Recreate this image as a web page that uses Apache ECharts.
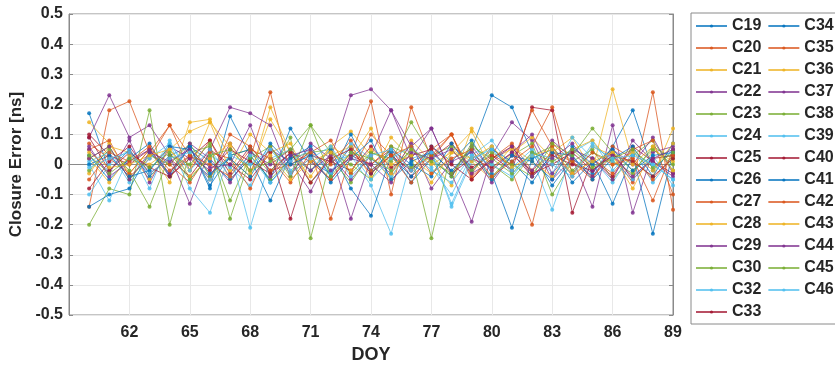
<!DOCTYPE html>
<html>
<head>
<meta charset="utf-8">
<script src="https://cdn.jsdelivr.net/npm/echarts@6/dist/echarts.min.js"></script>
<style>
  html, body { margin: 0; padding: 0; background: #fff; }
  #vis { width: 835px; height: 366px; }
</style>
</head>
<body>
<div id="vis"></div>
<script>
// day of year for each point, axis starts one day earlier
const doy = [60, 61, 62, 63, 64, 65, 66, 67, 68, 69, 70, 71, 72, 73, 74,
             75, 76, 77, 78, 79, 80, 81, 82, 83, 84, 85, 86, 87, 88, 89];
const axisStart = 59;
const xTicks = [62, 65, 68, 71, 74, 77, 80, 83, 86, 89];

const names = ['C19', 'C20', 'C21', 'C22', 'C23', 'C24', 'C25', 'C26', 'C27', 'C28',
               'C29', 'C30', 'C32', 'C33', 'C34', 'C35', 'C36', 'C37', 'C38', 'C39',
               'C40', 'C41', 'C42', 'C43', 'C44', 'C45', 'C46'];

// matlab default colour order
const colors = ['#0072BD', '#D95319', '#EDB120', '#7E2F8E', '#77AC30', '#4DBEEE', '#A2142F'];

const C19 = [0.17, -0.02, 0.05, -0.04, 0.03, 0.06, -0.08, 0.16, 0.03, -0.05, 0.12, 0.01, -0.03, 0.06, -0.02, 0.04, -0.06, 0.02, -0.04, 0.05, 0.23, 0.19, 0.04, -0.07, 0.02, -0.03, 0.06, 0.18, -0.02, 0.05];
const C20 = [-0.14, 0.18, 0.21, 0.04, 0.13, -0.02, 0.08, -0.05, 0.02, 0.24, -0.03, 0.05, -0.18, 0.03, 0.21, -0.1, 0.19, 0.02, 0.1, -0.03, 0.06, -0.02, -0.2, 0.07, 0.01, -0.04, 0.03, -0.06, 0.24, -0.15];
const C21 = [0.14, 0.07, -0.03, 0.05, -0.06, 0.14, 0.15, 0.02, -0.04, 0.19, 0.04, -0.02, 0.06, 0.11, 0.03, -0.05, 0.08, 0.01, -0.07, 0.12, 0.02, 0.05, -0.03, 0.04, 0.09, -0.02, 0.25, 0.01, -0.04, 0.12];
const C22 = [0.09, 0.23, 0.09, 0.13, 0.03, -0.13, 0.05, 0.19, 0.17, 0.13, -0.04, 0.07, 0.02, 0.23, 0.25, 0.18, 0.06, 0.12, -0.03, -0.19, 0.03, 0.14, 0.08, -0.05, 0.02, -0.14, 0.13, -0.16, 0.04, 0.06];
const C23 = [-0.2, -0.08, -0.1, 0.18, -0.2, 0.04, 0.06, -0.12, 0.03, -0.05, 0.02, 0.04, 0.05, -0.03, 0.04, 0.02, -0.01, 0.03, 0.06, 0.02, -0.04, 0.03, 0.07, -0.1, 0.01, 0.05, -0.05, 0.03, 0.08, -0.02];
const C24 = [0.0, -0.12, 0.03, -0.02, 0.07, -0.08, -0.16, 0.04, -0.21, 0.02, 0.05, -0.06, 0.01, 0.03, -0.07, -0.23, 0.02, 0.04, -0.14, 0.01, 0.06, -0.03, 0.02, -0.15, 0.04, 0.08, -0.02, 0.05, -0.06, 0.03];
const C25 = [0.1, 0.03, 0.0, 0.05, -0.04, 0.02, 0.08, -0.03, 0.06, -0.02, 0.04, 0.01, -0.05, 0.03, 0.0, 0.05, -0.04, 0.02, 0.07, -0.01, 0.03, -0.02, 0.19, 0.18, -0.16, 0.02, -0.04, 0.06, 0.01, -0.03];
const C26 = [-0.14, -0.1, -0.08, 0.04, -0.03, 0.06, 0.01, -0.05, 0.02, -0.12, 0.03, -0.02, 0.05, -0.08, -0.17, 0.03, -0.04, 0.06, 0.01, 0.08, -0.03, -0.21, 0.02, 0.05, -0.06, 0.01, -0.13, 0.03, -0.23, 0.04];
const C27 = [0.05, 0.08, -0.04, 0.02, 0.13, 0.03, -0.05, 0.1, 0.06, -0.02, 0.0, 0.04, 0.08, -0.03, 0.1, 0.03, -0.06, 0.05, 0.1, -0.04, 0.02, 0.07, -0.02, 0.04, 0.01, -0.05, 0.06, 0.02, -0.12, 0.05];
const C28 = [-0.03, 0.06, 0.04, -0.05, 0.05, 0.11, 0.14, -0.02, 0.1, 0.04, 0.07, -0.06, 0.03, 0.06, -0.04, 0.09, 0.02, -0.03, 0.05, 0.01, -0.05, 0.04, 0.09, 0.02, -0.03, 0.06, 0.03, -0.08, 0.05, 0.01];
const C29 = [0.05, -0.03, 0.08, -0.06, 0.06, 0.02, -0.04, 0.07, -0.02, 0.05, 0.01, -0.09, 0.04, -0.18, 0.02, -0.03, 0.07, -0.08, 0.01, 0.04, -0.06, 0.03, -0.02, 0.08, 0.02, -0.04, 0.05, 0.0, 0.09, -0.03];
const C30 = [0.02, 0.06, -0.05, 0.03, 0.0, 0.07, -0.04, 0.03, 0.05, -0.03, 0.09, -0.245, 0.02, -0.06, 0.04, 0.01, 0.14, 0.03, -0.04, 0.07, 0.0, -0.05, 0.03, 0.06, -0.02, 0.04, 0.01, -0.03, 0.06, 0.02];
const C32 = [-0.1, 0.0, 0.05, -0.08, 0.08, -0.05, 0.03, -0.01, -0.07, 0.06, -0.02, 0.04, -0.03, 0.07, 0.02, -0.04, 0.05, -0.02, -0.06, 0.03, 0.08, -0.01, 0.05, -0.03, 0.09, 0.02, -0.06, 0.04, 0.0, -0.05];
const C33 = [-0.08, 0.01, 0.06, -0.03, 0.02, -0.04, 0.05, 0.0, -0.05, 0.04, -0.18, 0.03, 0.01, -0.02, 0.06, -0.01, 0.03, 0.05, -0.03, 0.02, -0.01, 0.04, -0.04, 0.03, 0.0, -0.02, 0.04, -0.05, 0.02, 0.03];
const C34 = [0.03, -0.05, 0.02, 0.07, -0.04, 0.06, -0.07, 0.03, 0.05, -0.06, 0.02, 0.06, -0.04, 0.1, -0.03, 0.05, 0.0, -0.04, 0.07, -0.02, 0.05, 0.01, -0.06, 0.04, 0.03, -0.05, 0.02, 0.06, -0.04, 0.07];
const C35 = [0.07, 0.02, -0.03, 0.05, 0.0, -0.06, 0.04, 0.02, -0.08, 0.06, -0.03, 0.02, -0.05, 0.04, 0.0, 0.06, -0.02, 0.03, 0.1, -0.05, 0.03, 0.0, 0.18, 0.06, -0.04, 0.02, -0.03, 0.05, 0.08, -0.1];
const C36 = [0.02, -0.06, 0.03, 0.0, 0.05, -0.02, 0.14, 0.06, -0.03, 0.15, 0.04, -0.04, 0.06, 0.02, 0.12, -0.03, 0.05, 0.0, 0.04, 0.11, -0.02, 0.06, 0.01, -0.04, 0.05, 0.08, 0.0, 0.04, -0.02, 0.07];
const C37 = [0.06, -0.04, 0.01, 0.05, -0.03, 0.07, 0.02, -0.06, 0.04, 0.0, 0.05, -0.02, 0.03, -0.05, 0.03, 0.18, 0.02, 0.12, -0.03, 0.06, -0.02, 0.04, 0.1, -0.03, 0.05, 0.02, -0.05, 0.08, 0.01, -0.04];
const C38 = [-0.02, 0.05, -0.02, -0.14, 0.03, 0.0, 0.07, -0.18, 0.02, 0.06, -0.04, 0.13, 0.04, 0.0, -0.05, 0.06, 0.03, -0.245, 0.05, -0.02, 0.04, 0.0, -0.04, 0.07, 0.03, 0.12, 0.04, -0.02, 0.05, 0.0];
const C39 = [0.01, 0.04, -0.06, 0.02, 0.07, -0.02, 0.05, -0.04, 0.03, -0.06, 0.01, 0.05, -0.02, 0.04, -0.05, 0.02, 0.06, -0.01, -0.1, 0.03, 0.0, -0.04, 0.04, 0.02, -0.03, 0.07, 0.01, -0.05, 0.03, -0.07];
const C40 = [0.09, -0.02, 0.04, -0.01, -0.04, 0.03, -0.02, 0.05, 0.01, -0.03, 0.04, -0.06, 0.02, 0.05, -0.03, 0.03, -0.02, 0.06, 0.0, -0.05, 0.02, 0.06, -0.03, 0.0, 0.04, -0.02, 0.03, 0.01, -0.04, 0.02];
const C41 = [0.0, 0.03, -0.04, -0.02, 0.06, 0.05, -0.03, 0.02, -0.04, 0.07, 0.0, 0.03, -0.06, 0.02, 0.08, -0.05, 0.01, 0.04, -0.02, 0.05, -0.05, 0.03, 0.01, -0.05, 0.06, 0.0, 0.05, -0.02, 0.03, 0.04];
const C42 = [-0.05, 0.04, 0.01, 0.06, -0.02, 0.03, 0.0, -0.04, 0.05, 0.02, -0.06, 0.04, 0.0, 0.08, -0.02, 0.03, 0.06, -0.03, 0.02, 0.05, -0.04, 0.01, 0.06, 0.19, -0.03, 0.04, 0.0, 0.02, -0.05, 0.03];
const C43 = [0.04, -0.01, 0.0, 0.03, 0.05, -0.04, 0.02, 0.07, -0.02, 0.03, -0.05, 0.01, 0.04, -0.02, 0.05, 0.0, 0.03, -0.06, 0.04, 0.02, 0.06, -0.01, 0.03, 0.05, -0.03, 0.01, 0.04, 0.0, 0.06, -0.02];
const C44 = [0.02, 0.06, -0.05, 0.04, 0.01, 0.05, -0.01, 0.0, 0.13, -0.04, 0.03, 0.05, -0.02, 0.02, 0.0, -0.06, 0.04, 0.02, 0.05, -0.03, 0.01, 0.06, -0.04, 0.02, 0.07, -0.02, 0.03, -0.04, 0.02, 0.05];
const C45 = [0.03, -0.03, 0.02, -0.01, 0.04, -0.05, 0.03, 0.05, -0.02, 0.01, 0.05, 0.13, -0.04, 0.04, 0.02, -0.02, 0.05, 0.01, -0.03, 0.06, 0.02, -0.03, 0.04, 0.01, 0.05, -0.01, 0.02, 0.05, -0.01, 0.04];
const C46 = [-0.01, 0.02, 0.04, -0.03, 0.02, 0.04, -0.05, 0.03, 0.0, 0.05, -0.03, 0.02, 0.06, -0.04, 0.03, 0.05, -0.02, 0.04, -0.13, 0.02, 0.05, -0.02, 0.03, 0.0, -0.04, 0.06, 0.02, 0.03, 0.0, -0.05];

const values = [C19, C20, C21, C22, C23, C24, C25, C26, C27, C28, C29, C30, C32, C33,
                C34, C35, C36, C37, C38, C39, C40, C41, C42, C43, C44, C45, C46];

const font = "'Liberation Sans', Arial, sans-serif";
const textColor = '#262626';
const frameColor = '#8a8a8a';
const gridColor = '#e8e8e8';

const categories = [String(axisStart)].concat(doy.map(String));
const isTick = (i, v) => xTicks.indexOf(Number(v)) >= 0;

const chart = echarts.init(document.getElementById('vis'), null, {renderer: 'canvas'});

const series = names.map((name, i) => ({
  name: name,
  type: 'line',
  xAxisIndex: 0,
  yAxisIndex: 0,
  data: doy.map((d, j) => [String(d), values[i][j]]),
  color: colors[i % colors.length],
  symbol: 'circle',
  symbolSize: 4,
  showSymbol: true,
  lineStyle: {width: 1, opacity: 0.75},
  itemStyle: {opacity: 0.85},
  emphasis: {disabled: true}
}));

const xBase = {
  type: 'category',
  data: categories,
  boundaryGap: false,
  axisLine: {show: true, lineStyle: {color: frameColor, width: 1}},
  axisTick: {show: true, inside: true, length: 4, interval: isTick, lineStyle: {color: frameColor}}
};
const yBase = {
  type: 'value',
  min: -0.5,
  max: 0.5,
  interval: 0.1,
  axisLine: {show: true, lineStyle: {color: frameColor, width: 1}},
  axisTick: {show: true, inside: true, length: 4, lineStyle: {color: frameColor}}
};

chart.setOption({
  animation: false,
  backgroundColor: '#fff',
  grid: {
    left: 69, right: 162, top: 14, bottom: 51,
    outerBoundsMode: 'none',
    show: true, borderColor: frameColor, borderWidth: 1
  },
  legend: {
    orient: 'vertical',
    left: 691,
    top: 13,
    height: 322,
    padding: [5, 5, 4, 4],
    itemWidth: 31,
    itemHeight: 4,
    itemGap: 6,
    itemTextGap: 4,
    borderColor: frameColor,
    borderWidth: 1,
    backgroundColor: '#fff',
    textStyle: {fontFamily: font, fontWeight: 'bold', fontSize: 16, color: textColor},
    data: names
  },
  xAxis: [
    Object.assign({}, xBase, {
      position: 'bottom',
      name: 'DOY',
      nameLocation: 'middle',
      nameGap: 30,
      nameTextStyle: {fontFamily: font, fontWeight: 'bold', fontSize: 18, color: textColor},
      axisLabel: {interval: isTick, margin: 10, fontFamily: font, fontWeight: 'bold', fontSize: 16, color: textColor},
      splitLine: {show: true, interval: isTick, lineStyle: {color: gridColor, width: 1}}
    }),
    Object.assign({}, xBase, {
      position: 'top',
      axisLabel: {show: false},
      splitLine: {show: false}
    })
  ],
  yAxis: [
    Object.assign({}, yBase, {
      position: 'left',
      name: 'Closure Error [ns]',
      nameLocation: 'middle',
      nameGap: 42,
      nameTextStyle: {fontFamily: font, fontWeight: 'bold', fontSize: 17, color: textColor},
      axisLabel: {
        margin: 6, fontFamily: font, fontWeight: 'bold', fontSize: 16, color: textColor,
        formatter: v => (Math.abs(v) < 1e-9 ? '0' : v.toFixed(1))
      },
      splitLine: {show: true, lineStyle: {color: gridColor, width: 1}}
    }),
    Object.assign({}, yBase, {
      position: 'right',
      axisLabel: {show: false},
      splitLine: {show: false}
    })
  ],
  series: series
});
</script>
</body>
</html>
